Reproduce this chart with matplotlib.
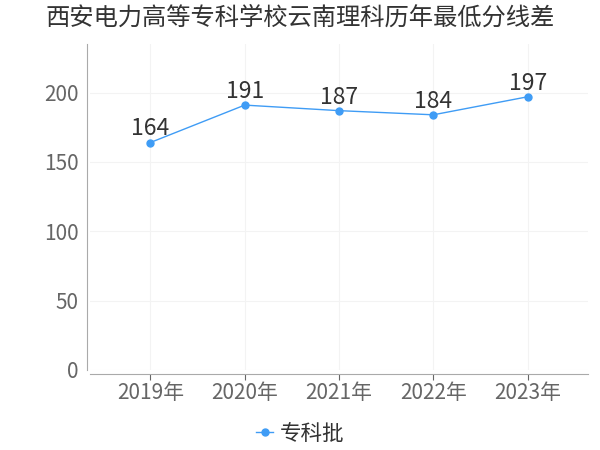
import matplotlib
matplotlib.use("Agg")
from matplotlib import pyplot as plt

plt.rcParams['font.family'] = ['Noto Sans CJK SC', 'DejaVu Sans']

years = ["2019年", "2020年", "2021年", "2022年", "2023年"]
scores = [164, 191, 187, 184, 197]
series_name = "专科批"
title = "西安电力高等专科学校云南理科历年最低分线差"

color = "#3f9cf5"

fig = plt.figure(figsize=(6, 4.5), dpi=100)
ax = fig.add_axes([0.15, 0.178, 0.83, 0.724])

xs = list(range(len(years)))
ax.plot(xs, scores, color=color, lw=1, marker="o", ms=5, label=series_name, zorder=3)
for x, v in zip(xs, scores):
    ax.annotate(str(v), (x, v), xytext=(0, 1.5), textcoords="offset points",
                ha="center", va="bottom", fontsize=16.5, color="#333333")

ax.set_xlim(-0.64, 4.64)
ax.set_ylim(0, 235)
ax.set_yticks([0, 50, 100, 150, 200])
ax.set_xticks(xs)
ax.set_xticklabels(years)
ax.tick_params(axis="y", length=0, labelsize=15, colors="#666666", pad=6)
ax.tick_params(axis="x", length=4, labelsize=15, colors="#666666", pad=2)
for t in ax.get_xticklines():
    t.set_color("#aaaaaa")

ax.grid(True, color="#f3f3f3", lw=0.8)
ax.set_axisbelow(True)
for s in ["top", "right"]:
    ax.spines[s].set_visible(False)
ax.spines["left"].set_color("#aaaaaa")
ax.spines["bottom"].set_color("#aaaaaa")
ax.spines["left"].set_position(("outward", 2))
ax.spines["bottom"].set_position(("outward", 3))

fig.suptitle(title, x=0.5, y=0.99, fontsize=17.5, color="#333333")
fig.legend(loc="lower center", bbox_to_anchor=(0.5, -0.032), frameon=False,
           fontsize=15.5, handlelength=0.8, handletextpad=0.3, labelcolor="#333333")

fig.savefig("out.png", dpi=100)
